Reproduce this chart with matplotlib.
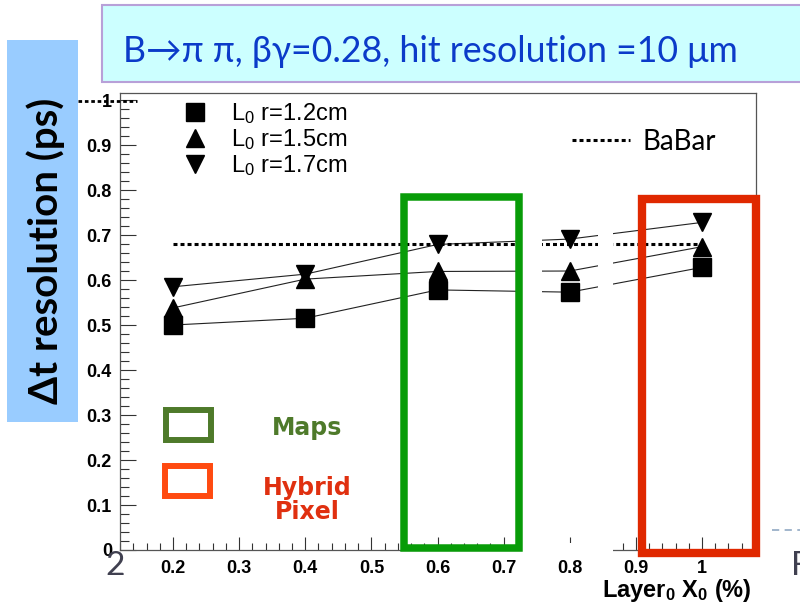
import matplotlib
matplotlib.use("Agg")
import matplotlib.pyplot as plt
from matplotlib.patches import Rectangle
from matplotlib.lines import Line2D
from matplotlib.ticker import MultipleLocator, FormatStrFormatter

# ========================= DADOS =========================
x0_pct = [0.2, 0.4, 0.6, 0.8, 1.0]            # Layer0 X0 (%)
res_r12 = [0.500, 0.515, 0.578, 0.573, 0.628]  # L0 r=1.2cm
res_r15 = [0.538, 0.602, 0.619, 0.620, 0.674]  # L0 r=1.5cm
res_r17 = [0.585, 0.613, 0.679, 0.691, 0.728]  # L0 r=1.7cm
babar_x = [0.2, 1.0]
babar_res = 0.681

series_vals = [res_r12, res_r15, res_r17]
series_labels = ["L$_0$ r=1.2cm", "L$_0$ r=1.5cm", "L$_0$ r=1.7cm"]
series_markers = ["s", "^", "v"]

title_txt = "B\u2192\u03c0 \u03c0, \u03b2\u03b3=0.28, hit resolution =10 \u03bcm"
ylabel_txt = "\u0394t resolution (ps)"
xlabel_txt = r"$\mathbf{Layer_{0}\ X_{0}\ (\%)}$"

# ========================= ESTILO =========================
plt.rcParams["mathtext.fontset"] = "custom"
plt.rcParams["mathtext.rm"] = "Liberation Sans"
plt.rcParams["mathtext.bf"] = "Liberation Sans:bold"
plt.rcParams["mathtext.it"] = "Liberation Sans:italic"

W, H = 800, 607
def fx(x):
    return x / W
def fy(y):
    return 1 - y / H

fig = plt.figure(figsize=(8, 6.07), dpi=100)
fig.patch.set_facecolor("white")

ax = fig.add_axes([fx(120), fy(550), fx(756) - fx(120), fy(93) - fy(550)])
ax.set_xlim(0.1198, 1.0817)
ax.set_ylim(0, 1.0156)

for vals, mk in zip(series_vals, series_markers):
    ax.plot(x0_pct, vals, color="#222222", lw=0.8, zorder=2)
    ax.plot(x0_pct, vals, ls="none", marker=mk, ms=13, color="black", zorder=4)

ax.plot(babar_x, [babar_res, babar_res], color="black", lw=2.2,
        ls=(0, (1.3, 1.0)), zorder=3)

# eixos estilo ROOT
for s in ax.spines.values():
    s.set_color("#555555")
    s.set_linewidth(0.9)
ax.xaxis.set_major_locator(MultipleLocator(0.1))
ax.xaxis.set_minor_locator(MultipleLocator(0.02))
ax.yaxis.set_major_locator(MultipleLocator(0.1))
ax.yaxis.set_minor_locator(MultipleLocator(0.02))
ax.xaxis.set_major_formatter(FormatStrFormatter("%g"))
ax.yaxis.set_major_formatter(FormatStrFormatter("%g"))
ax.tick_params(axis="both", which="both", direction="in", top=False, right=False,
               color="#333333", width=0.8, labelsize=13)
ax.tick_params(axis="y", which="major", length=11.5, pad=5.8)
ax.tick_params(axis="y", which="minor", length=6.5)
ax.tick_params(axis="x", which="major", length=9.5, pad=7.2)
ax.tick_params(axis="x", which="minor", length=5)
for lab in ax.get_xticklabels() + ax.get_yticklabels():
    lab.set_fontfamily("Liberation Sans")
    lab.set_fontweight("bold")

# legenda dos marcadores
handles = [Line2D([], [], ls="none", marker=mk, ms=13, color="black")
           for mk in series_markers]
leg1 = ax.legend(handles, series_labels, loc="upper left",
                 bbox_to_anchor=(fx(183), fy(101)), bbox_transform=fig.transFigure,
                 frameon=False, prop={"family": "Liberation Sans", "size": 17},
                 handlelength=1.0, handletextpad=1.05, labelspacing=0.05,
                 borderpad=0, borderaxespad=0)
ax.add_artist(leg1)

# legenda BaBar
bb = Line2D([], [], color="black", lw=2.2, ls=(0, (1.3, 1.0)))
ax.legend([bb], ["BaBar"], loc="center left",
          bbox_to_anchor=(fx(572), fy(142)), bbox_transform=fig.transFigure,
          frameon=False, prop={"family": ["Lato", "DejaVu Sans"], "size": 20},
          handlelength=2.1, handletextpad=0.43, borderpad=0, borderaxespad=0)

# rótulo do eixo x
fig.text(fx(752), fy(597), xlabel_txt, fontsize=17, ha="right", va="baseline")

# ========================= ELEMENTOS DO SLIDE =========================
# caixa do título
fig.add_artist(Rectangle((fx(102), fy(82)), fx(820) - fx(102), fy(5) - fy(82),
                         transform=fig.transFigure, facecolor="#CCFFFF",
                         edgecolor="#B8A0D8", lw=1.5, zorder=1))
fig.text(fx(123), fy(62), title_txt, fontsize=25.7, color="#0B3BC9",
         family=["Lato", "DejaVu Sans"], ha="left", va="baseline", zorder=3)

# caixa azul do rótulo y
fig.add_artist(Rectangle((fx(7), fy(422)), fx(78) - fx(7), fy(40) - fy(422),
                         transform=fig.transFigure, facecolor="#99CCFF",
                         edgecolor="none", zorder=1))
fig.text(fx(46), fy(251), ylabel_txt, rotation=90, fontsize=29, fontweight="bold",
         family=["Lato", "DejaVu Sans"], ha="center", va="center", zorder=3)

# pontilhado junto ao "1"
fig.add_artist(Line2D([fx(78), fx(137)], [fy(101), fy(101)], transform=fig.transFigure,
                      color="black", lw=2.0, ls=(0, (1.3, 1.0)), zorder=1))

# falhas brancas na figura original
for (x1, y1, x2, y2) in [(522, 200, 542, 543), (598, 200, 613, 543), (522, 543, 613, 553)]:
    fig.add_artist(Rectangle((fx(x1), fy(y2)), fx(x2) - fx(x1), fy(y1) - fy(y2),
                             transform=fig.transFigure, facecolor="white",
                             edgecolor="none", zorder=1.5))

# caixas de destaque
fig.add_artist(Rectangle((fx(403.5), fy(547.5)), fx(519) - fx(403.5), fy(197) - fy(547.5),
                         transform=fig.transFigure, fill=False, edgecolor="#089C08",
                         lw=5.4, zorder=2))
fig.add_artist(Rectangle((fx(641.5), fy(552.5)), fx(755.5) - fx(641.5), fy(198.5) - fy(552.5),
                         transform=fig.transFigure, fill=False, edgecolor="#E02800",
                         lw=6.0, zorder=2))

# legenda Maps / Hybrid Pixel
fig.add_artist(Rectangle((fx(166), fy(440)), fx(211) - fx(166), fy(410) - fy(440),
                         transform=fig.transFigure, fill=False, edgecolor="#4E7A2A",
                         lw=4.3, zorder=2))
fig.add_artist(Rectangle((fx(165), fy(496)), fx(210) - fx(165), fy(466) - fy(496),
                         transform=fig.transFigure, fill=False, edgecolor="#FF4A10",
                         lw=4.3, zorder=2))
fig.text(fx(307), fy(428), "Maps", fontsize=17, fontweight="bold", color="#4E7A2A",
         family="DejaVu Sans", ha="center", va="center")
fig.text(fx(307), fy(500), "Hybrid\nPixel", fontsize=17, fontweight="bold", color="#E03010",
         family="DejaVu Sans", ha="center", va="center", linespacing=1.05)

# número do slide e restos à direita
fig.text(fx(115), fy(575), "2", fontsize=24, color="#404050",
         family=["Lato", "DejaVu Sans"], ha="center", va="baseline")
fig.text(fx(791), fy(575), "F", fontsize=24, color="#404050",
         family=["Lato", "DejaVu Sans"], ha="left", va="baseline")
fig.add_artist(Line2D([fx(772), fx(800)], [fy(530), fy(530)], transform=fig.transFigure,
                      color="#9AB0C8", lw=1.3, ls=(0, (4, 3))))

fig.savefig("out.png", dpi=100)
